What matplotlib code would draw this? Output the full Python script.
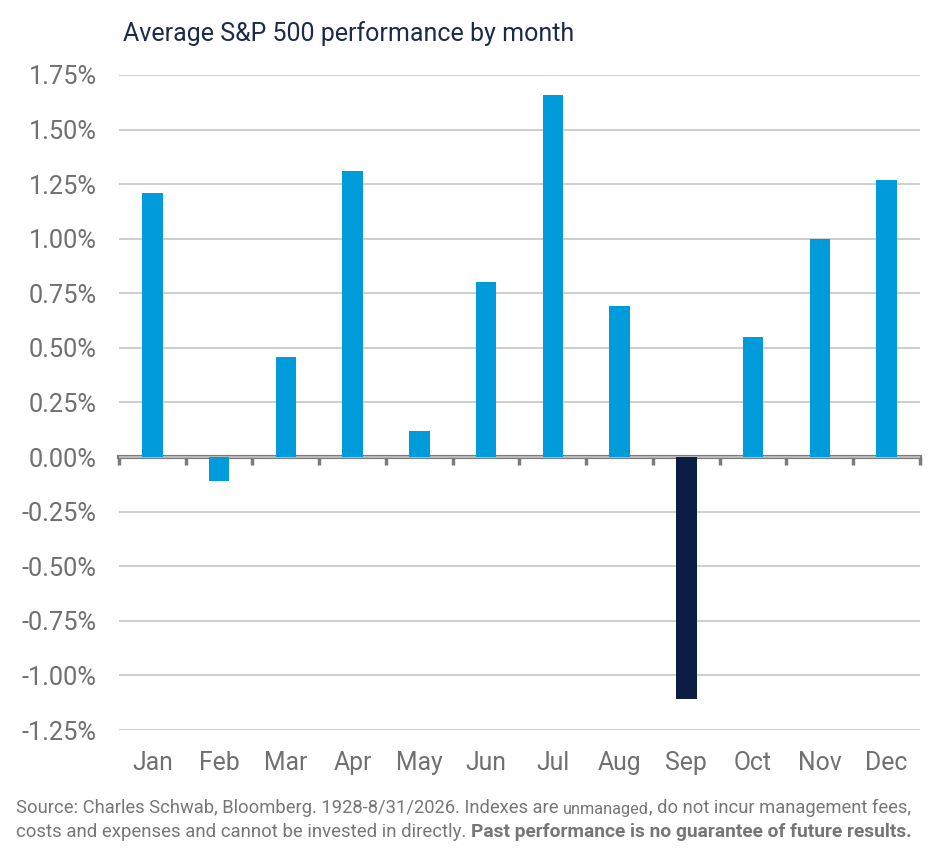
import matplotlib
matplotlib.use("Agg")
import matplotlib.pyplot as plt
import numpy as np

# ---------------------------------------------------------
# data: average S&P 500 return by calendar month (%)
# ---------------------------------------------------------
months = ["Jan", "Feb", "Mar", "Apr", "May", "Jun",
          "Jul", "Aug", "Sep", "Oct", "Nov", "Dec"]
avg_return = [1.21, -0.11, 0.46, 1.31, 0.12, 0.80,
              1.66, 0.69, -1.11, 0.55, 1.00, 1.27]
y_ticks = [-1.25, -1.00, -0.75, -0.50, -0.25, 0.00,
           0.25, 0.50, 0.75, 1.00, 1.25, 1.50, 1.75]
highlight = "Sep"

BLUE = "#009BDA"
NAVY = "#0B1C45"
GRAY_TXT = "#707070"
GRID = "#C6C6C6"
AXIS = "#7C7C7C"

plt.rcParams["font.family"] = ["Roboto", "DejaVu Sans"]

fig = plt.figure(figsize=(9.53, 8.6), dpi=100)
ax = fig.add_axes([119 / 953, 1 - 730 / 860, (920 - 119) / 953, (730 - 75) / 860])

x = np.arange(len(months))
colors = [NAVY if m == highlight else BLUE for m in months]
ax.bar(x, avg_return, width=0.31, color=colors, zorder=3)

ax.set_xlim(-0.5, len(months) - 0.5)
ax.set_ylim(y_ticks[0], y_ticks[-1])
ax.set_yticks(y_ticks)
ax.set_yticklabels([f"{v:.2f}%" for v in y_ticks])
ax.set_xticks(x)
ax.set_xticklabels(months)

ax.tick_params(axis="both", length=0, colors=GRAY_TXT)
ax.tick_params(axis="y", pad=16, labelsize=18.3)
ax.tick_params(axis="x", pad=15, labelsize=17.8)

ax.grid(axis="y", color=GRID, linewidth=1.2, zorder=0)
for s in ax.spines.values():
    s.set_visible(False)

# zero line with boundary ticks
zero = ax.secondary_xaxis(0, transform=ax.transData)
zero.set_xticks(np.arange(len(months) + 1) - 0.5)
zero.set_xticklabels([])
zero.tick_params(length=6, width=2.5, color=AXIS, direction="out")
zero.spines["bottom"].set_color(AXIS)
zero.spines["bottom"].set_linewidth(3)

# title
fig.text(123 / 953, 1 - 41 / 860, "Average S&P 500 performance by month",
         fontsize=18, color="#1B2A4E", ha="left", va="baseline")

# footer
foot_kw = dict(color="#767676", ha="left", va="bottom")
t1 = fig.text(16 / 953, 1 - 817 / 860,
              "Source: Charles Schwab, Bloomberg. 1928-8/31/2026. Indexes are ",
              fontsize=13.2, **foot_kw)
t2 = ax.annotate("unmanaged", xy=(1, 0), xycoords=t1, fontsize=11.7,
                 annotation_clip=False, **foot_kw)
ax.annotate(", do not incur management fees,", xy=(1, 0), xycoords=t2,
            fontsize=13.2, annotation_clip=False, **foot_kw)
t4 = fig.text(16 / 953, 1 - 841 / 860,
              "costs and expenses and cannot be invested in directly. ",
              fontsize=13.4, **foot_kw)
ax.annotate("Past performance is no guarantee of future results.", xy=(1, 0),
            xycoords=t4, fontsize=13.8, fontweight="bold",
            annotation_clip=False, **foot_kw)

fig.savefig("out.png", dpi=100)
plt.close(fig)
